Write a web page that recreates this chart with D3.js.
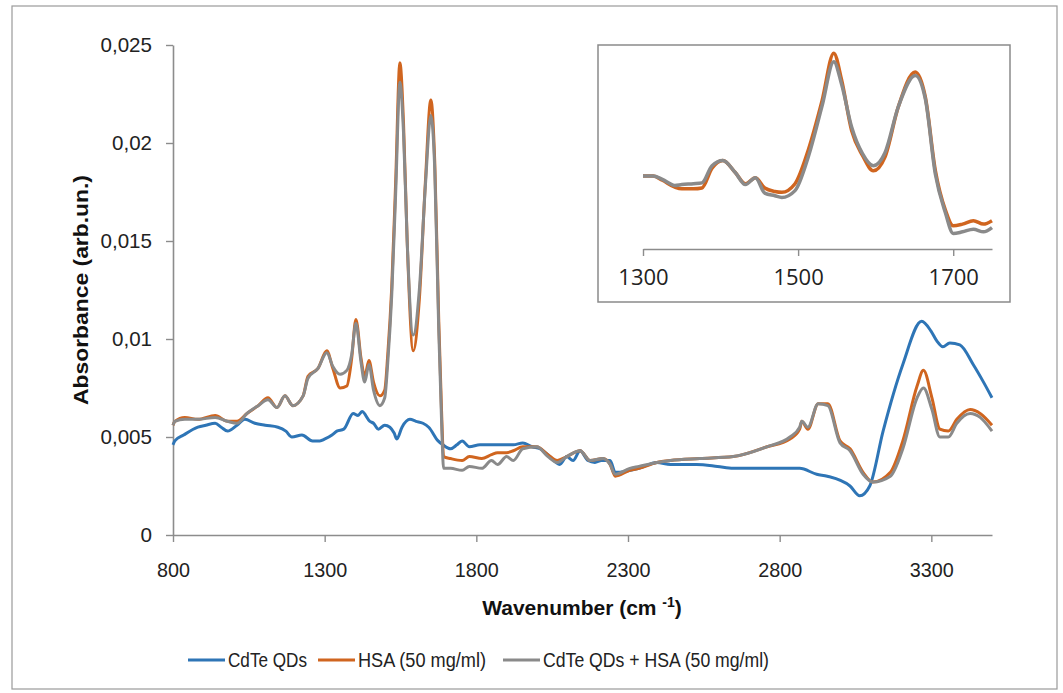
<!DOCTYPE html>
<html><head><meta charset="utf-8">
<script src="https://cdn.jsdelivr.net/npm/d3@7"></script>
<style>body{margin:0;background:#fff} svg{display:block}</style>
</head><body>
<svg id="c" width="1063" height="693"></svg>
<script>
// ---------- data ----------
const xTicks = [800, 1300, 1800, 2300, 2800, 3300];
const yTicks = [0, 0.005, 0.01, 0.015, 0.02, 0.025];
const yTickLabels = ["0", "0,005", "0,01", "0,015", "0,02", "0,025"];
const insetTicks = [1300, 1500, 1700];
const seriesNames = ["CdTe QDs", "HSA (50 mg/ml)", "CdTe QDs + HSA (50 mg/ml)"];
const seriesColors = ["#2E75B6", "#D0651F", "#8A8A8A"];

// CdTe QDs (blue)
const qdWn = [800,806,835,882,908,939,959,980,1011,1037,1070,1104,1146,1172,1192,1225,1260,1284,1301,1324,1340,1363,1394,1410,1423,1449,1461,1477,1498,1515,1529,1538,1555,1581,1601,1624,1643,1674,1690,1715,1736,1753,1777,1812,1850,1891,1922,1953,1984,2010,2036,2075,2098,2119,2142,2168,2191,2212,2241,2258,2336,2395,2440,2526,2595,2647,2667,2750,2866,2922,2957,3032,3064,3097,3141,3206,3268,3299,3318,3338,3361,3394,3438,3472,3500];
const qdAbs = [0.0046,0.0048,0.0051,0.0055,0.0056,0.0057,0.0055,0.0053,0.0056,0.0059,0.0057,0.0056,0.0055,0.0053,0.0050,0.0051,0.0048,0.0048,0.0049,0.0051,0.0053,0.0054,0.0062,0.0061,0.0063,0.0058,0.0057,0.0054,0.0056,0.0055,0.0052,0.0049,0.0055,0.0059,0.0058,0.0057,0.0055,0.0048,0.0046,0.0044,0.0046,0.0048,0.0045,0.0046,0.0046,0.0046,0.0046,0.0047,0.0045,0.0044,0.0041,0.0036,0.0040,0.0038,0.0043,0.0038,0.0037,0.0038,0.0038,0.0032,0.0034,0.0037,0.0036,0.0036,0.0035,0.0034,0.0034,0.0034,0.0034,0.0031,0.0030,0.0025,0.0020,0.0025,0.0053,0.0087,0.0109,0.0104,0.0099,0.0096,0.0098,0.0097,0.0087,0.0078,0.0070];

// HSA (orange) and CdTe QDs + HSA (gray) share one wavenumber grid
const proteinWn = [800,806,839,882,939,980,1011,1044,1081,1113,1143,1169,1195,1229,1245,1278,1307,1327,1351,1373,1389,1403,1420,1432,1446,1461,1482,1498,1508,1521,1534,1548,1560,1572,1592,1612,1632,1650,1663,1676,1686,1692,1715,1753,1777,1818,1850,1870,1900,1922,1953,1999,2036,2067,2098,2142,2175,2218,2241,2258,2306,2336,2395,2440,2537,2647,2758,2834,2866,2873,2893,2927,2959,2999,3032,3075,3107,3165,3206,3253,3274,3302,3328,3356,3384,3428,3461,3500];
const hsaAbs = [0.0056,0.0058,0.0060,0.0059,0.0061,0.0058,0.0058,0.0062,0.0066,0.0070,0.0065,0.0071,0.0066,0.0071,0.0081,0.0085,0.0094,0.0085,0.0075,0.0076,0.0090,0.0110,0.0090,0.0081,0.0089,0.0078,0.0071,0.0074,0.0092,0.0126,0.0180,0.0241,0.0210,0.0150,0.0094,0.0120,0.0180,0.0222,0.0190,0.0110,0.0060,0.0040,0.0039,0.0038,0.0040,0.0039,0.0041,0.0042,0.0042,0.0043,0.0045,0.0045,0.0041,0.0038,0.0040,0.0043,0.0038,0.0039,0.0036,0.0030,0.0033,0.0034,0.0037,0.0038,0.0039,0.0040,0.0045,0.0049,0.0054,0.0058,0.0054,0.0067,0.0067,0.0048,0.0044,0.0032,0.0027,0.0032,0.0048,0.0076,0.0084,0.0070,0.0054,0.0053,0.0059,0.0064,0.0062,0.0056];
const mixAbs = [0.0056,0.0058,0.0059,0.0059,0.0060,0.0058,0.0057,0.0062,0.0066,0.0069,0.0065,0.0071,0.0066,0.0071,0.0080,0.0085,0.0093,0.0086,0.0082,0.0084,0.0092,0.0108,0.0088,0.0078,0.0087,0.0074,0.0066,0.0070,0.0088,0.0122,0.0174,0.0231,0.0205,0.0150,0.0102,0.0125,0.0178,0.0214,0.0186,0.0105,0.0055,0.0034,0.0034,0.0033,0.0035,0.0034,0.0038,0.0036,0.0040,0.0038,0.0044,0.0045,0.0040,0.0037,0.0040,0.0043,0.0038,0.0039,0.0036,0.0031,0.0034,0.0035,0.0037,0.0038,0.0039,0.0040,0.0045,0.0050,0.0055,0.0058,0.0055,0.0067,0.0066,0.0047,0.0043,0.0031,0.0027,0.0030,0.0044,0.0070,0.0075,0.0064,0.0050,0.0050,0.0057,0.0062,0.0060,0.0053];

// inset (1300-1750 cm-1, amide region)
const insetWn = [1300,1313,1325,1341,1350,1365,1376,1389,1403,1419,1432,1445,1457,1470,1479,1496,1513,1531,1546,1556,1569,1583,1597,1612,1629,1651,1664,1677,1690,1700,1712,1726,1739,1750];
const insetHsa = [0.0098,0.0098,0.0093,0.0085,0.0083,0.0083,0.0084,0.0107,0.0116,0.0102,0.0089,0.0096,0.0084,0.0080,0.0079,0.0089,0.0128,0.0186,0.0241,0.0210,0.0151,0.0122,0.0104,0.0120,0.0178,0.0219,0.0190,0.0104,0.0058,0.0040,0.0042,0.0046,0.0042,0.0046];
const insetMix = [0.0098,0.0098,0.0094,0.0087,0.0088,0.0089,0.0090,0.0110,0.0116,0.0102,0.0088,0.0096,0.0078,0.0075,0.0073,0.0081,0.0120,0.0180,0.0231,0.0205,0.0155,0.0124,0.0110,0.0125,0.0178,0.0215,0.0188,0.0100,0.0055,0.0031,0.0033,0.0036,0.0033,0.0038];

// ---------- drawing ----------
const svg = d3.select("#c");
const sans = "'Liberation Sans',Arial,sans-serif";
const axisColor = "#8C8C8C";

svg.append("rect").attr("x", 12).attr("y", 6).attr("width", 1045).attr("height", 683)
  .attr("fill", "#fff").attr("stroke", "#9a9a9a").attr("stroke-width", 1.2);

const x = d3.scaleLinear().domain([800, 3500]).range([173, 992]);
const y = d3.scaleLinear().domain([0, 0.025]).range([535, 45]);

// axes
const xAxis = svg.append("g").attr("transform", `translate(0,${y(0)})`)
  .call(d3.axisBottom(x).tickValues(xTicks).tickSize(7).tickSizeOuter(0).tickPadding(20).tickFormat(d3.format("d")));
const yAxis = svg.append("g").attr("transform", `translate(${x(800)},0)`)
  .call(d3.axisLeft(y).tickValues(yTicks).tickSize(7).tickSizeOuter(0).tickPadding(14)
    .tickFormat(d => yTickLabels[yTicks.indexOf(d)]));
[xAxis, yAxis].forEach(g => {
  g.select(".domain").attr("stroke", axisColor).attr("stroke-width", 1.6);
  g.selectAll(".tick line").attr("stroke", axisColor).attr("stroke-width", 1.4);
  g.selectAll("text").attr("fill", "#222").style("font-family", sans).style("font-size", "21px");
});
xAxis.selectAll("text").attr("textLength", d => String(d).length * 11).attr("lengthAdjust", "spacingAndGlyphs");
yAxis.selectAll("text").attr("textLength", d => {
  const s = yTickLabels[yTicks.indexOf(d)];
  return s.length === 1 ? 11.5 : (s.length - 1) * 11.5 + 5.5;
}).attr("lengthAdjust", "spacingAndGlyphs");

// series
const line = d3.line().x(d => x(d[0])).y(d => y(d[1])).curve(d3.curveMonotoneX);
const mainSeries = [
  qdWn.map((w, i) => [w, qdAbs[i]]),
  proteinWn.map((w, i) => [w, hsaAbs[i]]),
  proteinWn.map((w, i) => [w, mixAbs[i]])
];
mainSeries.forEach((s, i) => {
  svg.append("path").datum(s).attr("d", line).attr("fill", "none")
    .attr("stroke", seriesColors[i]).attr("stroke-width", 3).attr("stroke-linejoin", "round");
});

// axis titles
svg.append("text").attr("transform", `translate(88,290) rotate(-90)`)
  .attr("text-anchor", "middle").style("font-family", sans).style("font-weight", "bold")
  .style("font-size", "21px").attr("fill", "#111")
  .attr("textLength", 230).attr("lengthAdjust", "spacingAndGlyphs").text("Absorbance (arb.un.)");
const xt = svg.append("text").attr("x", 582).attr("y", 615).attr("text-anchor", "middle")
  .style("font-family", sans).style("font-weight", "bold").style("font-size", "21px").attr("fill", "#111");
xt.append("tspan").text("Wavenumber  (cm ");
xt.append("tspan").attr("dy", -8).style("font-size", "14px").text("-1");
xt.append("tspan").attr("dy", 8).text(")");

// inset
svg.append("rect").attr("x", 598).attr("y", 45).attr("width", 412).attr("height", 257)
  .attr("fill", "#fff").attr("stroke", "#8a8a8a").attr("stroke-width", 1.5);
const ix = d3.scaleLinear().domain([1300, 1750]).range([643, 992]);
const iy = d3.scaleLinear().domain([0.0013, 0.0247]).range([249, 48]);
const iAxis = svg.append("g").attr("transform", "translate(0,249)")
  .call(d3.axisBottom(ix).tickValues(insetTicks).tickSize(7).tickSizeOuter(0).tickPadding(13).tickFormat(d3.format("d")));
iAxis.select(".domain").attr("stroke", axisColor).attr("stroke-width", 1.6);
iAxis.selectAll(".tick line").attr("stroke", axisColor).attr("stroke-width", 1.4);
iAxis.selectAll("text").attr("fill", "#222").style("font-family", "'Open Sans',sans-serif").style("font-size", "22px");
const iline = d3.line().x(d => ix(d[0])).y(d => iy(d[1])).curve(d3.curveMonotoneX);
[insetHsa, insetMix].forEach((arr, k) => {
  svg.append("path").datum(insetWn.map((w, i) => [w, arr[i]])).attr("d", iline).attr("fill", "none")
    .attr("stroke", seriesColors[k + 1]).attr("stroke-width", 3.5).attr("stroke-linejoin", "round");
});

// legend
const legendX = [188, 318, 503];
const legendTextW = [79, 128, 226];
const lg = svg.append("g");
seriesNames.forEach((n, i) => {
  lg.append("line").attr("x1", legendX[i]).attr("x2", legendX[i] + 37).attr("y1", 660).attr("y2", 660)
    .attr("stroke", seriesColors[i]).attr("stroke-width", 3);
  lg.append("text").attr("x", legendX[i] + 40).attr("y", 667).style("font-family", sans)
    .style("font-size", "20px").attr("fill", "#222")
    .attr("textLength", legendTextW[i]).attr("lengthAdjust", "spacingAndGlyphs").text(n);
});
</script>
</body></html>
